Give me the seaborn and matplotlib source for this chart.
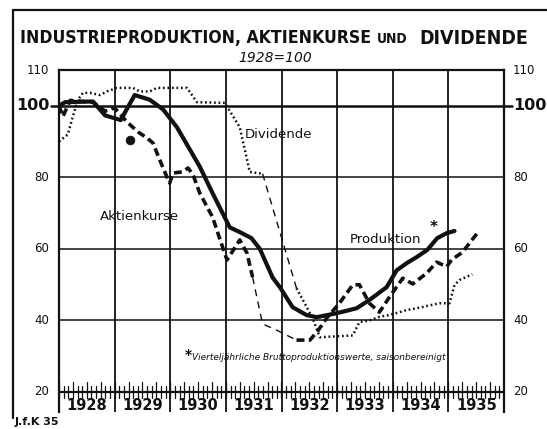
import numpy as np
import pandas as pd
import matplotlib
matplotlib.use("Agg")
import matplotlib.pyplot as plt
import seaborn as sns

# ---- data (1928 = 100) ----
prod_t = [1928.0, 1928.11, 1928.61, 1928.83, 1929.11, 1929.36, 1929.63, 1929.87,
          1930.12, 1930.53, 1930.76, 1931.07, 1931.25, 1931.46, 1931.61, 1931.84,
          1931.97, 1932.2, 1932.45, 1932.63, 1932.99, 1933.35, 1933.58, 1933.89,
          1934.07, 1934.25, 1934.43, 1934.62, 1934.8, 1934.97, 1935.11]
prod_v = [100, 101, 101.2, 97.3, 96, 103, 101.7, 99,
          94, 83, 75.6, 66, 64.7, 63, 60, 52,
          49.3, 43.7, 41.5, 40.9, 42, 43.4, 45.7, 49.3,
          54, 56, 57.7, 59.7, 63, 64.4, 65]

# Aktienkurse, before the exchange closure
kurs1_t = [1928.0, 1928.07, 1928.2, 1928.61, 1928.83, 1929.0, 1929.22, 1929.42,
           1929.58, 1929.69, 1929.81, 1929.94, 1929.99, 1930.05, 1930.21, 1930.32,
           1930.41, 1930.53, 1930.76, 1930.93, 1931.02, 1931.25, 1931.38, 1931.48]
kurs1_v = [100, 97, 101.5, 101, 98.5, 99.4, 95.5, 92.7,
           91, 89.6, 84.9, 80.1, 78.4, 81.2, 81.5, 82.6,
           80.7, 75.6, 68.9, 61, 56.9, 62.5, 58.8, 52.1]
# bridged period (thin dashed)
kurs2_t = [1931.48, 1931.66, 1931.91, 1932.27]
kurs2_v = [52.1, 39, 37.3, 34.5]
# after reopening
kurs3_t = [1932.27, 1932.51, 1932.65, 1932.81, 1933.04, 1933.28, 1933.4, 1933.58,
           1933.76, 1933.94, 1934.18, 1934.36, 1934.61, 1934.79, 1934.97, 1935.06,
           1935.25, 1935.52]
kurs3_v = [34.5, 34.5, 37, 40.6, 44.8, 49.9, 50, 44.8,
           42.3, 46.5, 51.8, 50.2, 53.2, 56.3, 55, 57,
           59, 64.4]
kurs_dot_t = [1929.27]
kurs_dot_v = [90.5]

# Dividende
div1_t = [1928.0, 1928.16, 1928.23, 1928.34, 1928.43, 1928.56, 1928.74, 1928.86,
          1929.04, 1929.33, 1929.45, 1929.63, 1929.76, 1930.3, 1930.48, 1930.98,
          1931.25, 1931.43, 1931.66]
div1_v = [90, 92, 96, 101.7, 103.6, 103.6, 103, 104,
          105, 105, 104, 104, 105, 105, 101, 100.8,
          94, 81.5, 81]
div2_t = [1931.66, 1932.27]
div2_v = [81, 49]
div3_t = [1932.27, 1932.56, 1932.69, 1933.28, 1933.4, 1933.58, 1933.76, 1933.94,
          1934.25, 1934.43, 1934.84, 1935.02, 1935.11, 1935.2, 1935.43]
div3_v = [49, 40.6, 35.3, 35.8, 39.5, 40, 41, 41.5,
          42.9, 43.4, 44.8, 44.8, 49.9, 51.3, 52.9]

years = list(range(1928, 1936))
side_labels = [110, 100, 80, 60, 40, 20]

sns.set_theme(style="white")
plt.rcParams['font.family'] = ['DejaVu Sans']

fig = plt.figure(figsize=(5.47, 4.29), dpi=100)
ax = fig.add_axes([59 / 547, 17 / 429, 445 / 547, 342 / 429])
ax.set_xlim(1928, 1936)
ax.set_ylim(14.4, 110)

ink = "#111111"

# grid lines
for v in [40, 60, 80]:
    ax.axhline(v, color=ink, lw=1.1, zorder=1)
ax.axhline(100, color=ink, lw=1.8, zorder=1)
for y in years[1:]:
    ax.axvline(y, ymin=0, ymax=1, color=ink, lw=1.3, zorder=1)

# ruler at 20 with monthly ticks
ax.axhline(20, color=ink, lw=1.6, zorder=1)
months = np.arange(1928, 1936 + 1e-9, 1 / 12)
for i, m in enumerate(months):
    h = 2.8 if i % 3 == 0 else 1.8
    ax.plot([m, m], [20 - 1.8, 20 + h], color=ink, lw=0.9, zorder=1)

# series
def seg(t, v, **kw):
    d = pd.DataFrame({"t": t, "v": v})
    sns.lineplot(data=d, x="t", y="v", ax=ax, estimator=None, sort=False,
                 color=ink, legend=False, zorder=3, **kw)

seg(prod_t, prod_v, lw=3.0, solid_capstyle="round")
seg(kurs1_t, kurs1_v, lw=2.6, dashes=(2.2, 1.2))
seg(kurs2_t, kurs2_v, lw=1.0, dashes=(5, 4))
seg(kurs3_t, kurs3_v, lw=2.6, dashes=(2.2, 1.2))
seg(div1_t, div1_v, lw=1.8, dashes=(0.7, 1.1))
seg(div2_t, div2_v, lw=1.0, dashes=(5, 4))
seg(div3_t, div3_v, lw=1.8, dashes=(0.7, 1.1))
sns.scatterplot(x=kurs_dot_t, y=kurs_dot_v, ax=ax, color=ink, s=40, zorder=4,
                edgecolor=ink)

ax.set_xlabel("")
ax.set_ylabel("")
ax.set_xticks([])
ax.set_yticks([])
for s in ["left", "right", "top"]:
    ax.spines[s].set_color(ink)
    ax.spines[s].set_linewidth(1.6)
ax.spines["bottom"].set_visible(False)

# year labels
for y in years:
    ax.text(y + 0.5, 16.3, str(y), ha="center", va="center",
            fontsize=10.5, fontweight="bold", color=ink)

# value labels both sides
for v in side_labels:
    big = v == 100
    kw = dict(va="center", color=ink, fontsize=11.5 if big else 8.5,
              fontweight="bold" if big else "normal")
    ax.text(-0.022, (v - 14.4) / (110 - 14.4), str(v), transform=ax.transAxes,
            ha="right", **kw)
    ax.text(1.02, (v - 14.4) / (110 - 14.4), str(v), transform=ax.transAxes,
            ha="left", **kw)
# the 100 line reaches past the frame
ax.plot([-0.018, 0], [100, 100], transform=ax.get_yaxis_transform(),
        color=ink, lw=1.8, clip_on=False)
ax.plot([1, 1.018], [100, 100], transform=ax.get_yaxis_transform(),
        color=ink, lw=1.8, clip_on=False)

# series labels
ax.text(1931.34, 91.9, "Dividende", fontsize=9.5, color=ink, va="center")
ax.text(1928.74, 69, "Aktienkurse", fontsize=9.5, color=ink, va="center")
ax.text(1933.22, 62.5, "Produktion", fontsize=9.5, color=ink, va="center")
ax.text(1934.66, 66, "*", fontsize=11, color=ink, va="center", fontweight="bold")
ax.text(1930.26, 30.2, "*", fontsize=10, color=ink, va="center", fontweight="bold")
ax.text(1930.4, 29.7, "Vierteljährliche Bruttoproduktionswerte, saisonbereinigt",
        fontsize=6.5, style="italic", color=ink, va="center")

# title block and outer frame
fig.text(20 / 547, 1 - 38 / 429, "INDUSTRIEPRODUKTION, AKTIENKURSE", fontsize=12.6,
         fontweight="bold", fontstretch="condensed", va="center", ha="left", color=ink)
fig.text(377 / 547, 1 - 39 / 429, "UND", fontsize=10, fontweight="bold",
         fontstretch="condensed", va="center", ha="left", color=ink)
fig.text(528 / 547, 1 - 38 / 429, "DIVIDENDE", fontsize=14, fontweight="bold",
         fontstretch="condensed", va="center", ha="right", color=ink)
fig.text(275 / 547, 1 - 58 / 429, "1928=100", fontsize=10, style="italic",
         va="center", ha="center", color=ink)
fig.text(15 / 547, 1 - 422 / 429, "J.f.K 35", fontsize=8, fontweight="bold",
         va="center", ha="left", color=ink)
fig.add_artist(plt.Line2D([13 / 547, 13 / 547], [1 - 10 / 429, 1 - 418 / 429],
                          color=ink, lw=1.6))
fig.add_artist(plt.Line2D([13 / 547, 1], [1 - 10 / 429, 1 - 10 / 429],
                          color=ink, lw=1.6))

fig.savefig("out.png", dpi=100)
